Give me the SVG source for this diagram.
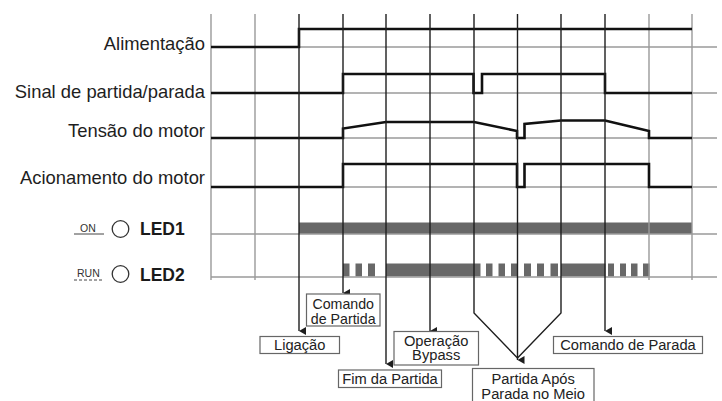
<svg xmlns="http://www.w3.org/2000/svg" width="722" height="401" viewBox="0 0 722 401">
<defs>
<style>
.gg{stroke:#9a9a9a;stroke-width:1.4;fill:none}
.gb{stroke:#1e1e1e;stroke-width:1.4;fill:none}
.tr{stroke:#111;stroke-width:2.6;fill:none;stroke-linejoin:miter}
.lbl{font-family:"Liberation Sans",Arial,sans-serif;font-size:18.4px;fill:#1e1e1e;text-anchor:end}
.bx{fill:#fff;stroke:#666;stroke-width:1.2}
.bt{font-family:"Liberation Sans",Arial,sans-serif;font-size:14.7px;fill:#222;text-anchor:middle}
.bt2{font-size:14.2px}
.led{font-family:"Liberation Sans",Arial,sans-serif;font-size:17.5px;font-weight:bold;fill:#1a1a1a}
.sm{font-family:"Liberation Sans",Arial,sans-serif;font-size:10.5px;fill:#333}
.bar{fill:#686868}
</style>
<marker id="ah" markerWidth="8" markerHeight="8" refX="4" refY="7" orient="auto-start-reverse" markerUnits="userSpaceOnUse" viewBox="0 0 8 8">
<path d="M0,0 L8,0 L4,7 Z" fill="#1e1e1e"/>
</marker>
</defs>
<rect width="722" height="401" fill="#fff"/>

<!-- LED bars -->
<g id="led-bars">
<rect class="bar" x="299" y="222.5" width="393" height="11.5"/>
<rect class="bar" x="343" y="263.5" width="6.5" height="13"/>
<rect class="bar" x="355.5" y="263.5" width="6.5" height="13"/>
<rect class="bar" x="368" y="263.5" width="7" height="13"/>
<rect class="bar" x="386" y="263.5" width="88" height="13"/>
<rect class="bar" x="474" y="263.5" width="6.5" height="13"/>
<rect class="bar" x="486" y="263.5" width="6.5" height="13"/>
<rect class="bar" x="498.5" y="263.5" width="6.5" height="13"/>
<rect class="bar" x="511" y="263.5" width="6" height="13"/>
<rect class="bar" x="524" y="263.5" width="7" height="13"/>
<rect class="bar" x="537" y="263.5" width="7" height="13"/>
<rect class="bar" x="550.5" y="263.5" width="7.5" height="13"/>
<rect class="bar" x="561" y="263.5" width="44.5" height="13"/>
<rect class="bar" x="608" y="263.5" width="6" height="13"/>
<rect class="bar" x="620" y="263.5" width="6" height="13"/>
<rect class="bar" x="631" y="263.5" width="6.5" height="13"/>
<rect class="bar" x="643" y="263.5" width="6.5" height="13"/>
</g>

<!-- grid -->
<g id="grid">
<path class="gg" d="M211,47H717M211,93H717M211,138H717M211,187H717M211,234H717M211,277H717"/>
<path class="gg" d="M211,14V280M255,14V280M649,14V280M692,14V280"/>
</g>

<!-- traces -->
<g id="traces">
<path class="tr" d="M211,47H299V29H692"/>
<path class="tr" d="M211,93H343V74H473.5V93H482V74H605V93H692"/>
<path class="tr" d="M211,138H343V128.5L386,122H474L517,131V138H524.5V124L561,120.5H605L649,131V138H692"/>
<path class="tr" d="M211,187H343V164H517V187H524.5V164H649V187H692"/>
</g>

<!-- row labels -->
<g id="row-labels">
<text class="lbl" x="205" y="50">Alimentação</text>
<text class="lbl" x="205" y="98">Sinal de partida/parada</text>
<text class="lbl" x="205" y="137">Tensão do motor</text>
<text class="lbl" x="205" y="184">Acionamento do motor</text>
</g>

<g id="led1">
<text class="sm" x="80" y="232">ON</text>
<line x1="74" y1="234" x2="104" y2="234" stroke="#444" stroke-width="1"/>
<circle cx="120.5" cy="229" r="8.3" fill="#fff" stroke="#333" stroke-width="1.3"/>
<text class="led" x="140" y="234.5">LED1</text>
</g>
<g id="led2">
<text class="sm" x="77" y="276.5">RUN</text>
<line x1="74" y1="280" x2="104" y2="280" stroke="#444" stroke-width="1" stroke-dasharray="3,2"/>
<circle cx="120.5" cy="274" r="8.3" fill="#fff" stroke="#333" stroke-width="1.3"/>
<text class="led" x="140" y="280.5">LED2</text>
</g>

<!-- connectors (event lines) -->
<g id="connectors">
<path class="gb" d="M299,14V331" marker-end="url(#ah)"/>
<path class="gb" d="M343,14V293" marker-end="url(#ah)"/>
<path class="gb" d="M386,14V364" marker-end="url(#ah)"/>
<path class="gb" d="M430,14V331" marker-end="url(#ah)"/>
<path class="gb" d="M474,14V313L517.5,358"/>
<path class="gb" d="M517.5,14V360" marker-end="url(#ah)"/>
<path class="gb" d="M561,14V313L517.5,358"/>
<path class="gb" d="M605,14V331" marker-end="url(#ah)"/>
</g>

<!-- event labels -->
<g id="n-comando-partida">
<rect class="bx" x="306.5" y="294" width="73.5" height="32"/>
<text class="bt bt2" x="343.2" y="309">Comando</text>
<text class="bt bt2" x="343.2" y="323.5">de Partida</text>
</g>
<g id="n-ligacao">
<rect class="bx" x="260" y="336.5" width="79.5" height="17"/>
<text class="bt" x="299.7" y="349.5">Ligação</text>
</g>
<g id="n-operacao-bypass">
<rect class="bx" x="394" y="331.5" width="84.5" height="33.5"/>
<text class="bt" x="436.2" y="345.5">Operação</text>
<text class="bt" x="436.2" y="360">Bypass</text>
</g>
<g id="n-fim-partida">
<rect class="bx" x="338.5" y="370" width="103" height="17.5"/>
<text class="bt" x="390" y="383.5">Fim da Partida</text>
</g>
<g id="n-partida-apos">
<rect class="bx" x="472.5" y="368.5" width="121.5" height="40"/>
<text class="bt" x="533.2" y="384">Partida Após</text>
<text class="bt" x="533.2" y="398.5">Parada no Meio</text>
</g>
<g id="n-comando-parada">
<rect class="bx" x="553.5" y="336.5" width="149" height="17"/>
<text class="bt" x="628" y="350">Comando de Parada</text>
</g>
</svg>
